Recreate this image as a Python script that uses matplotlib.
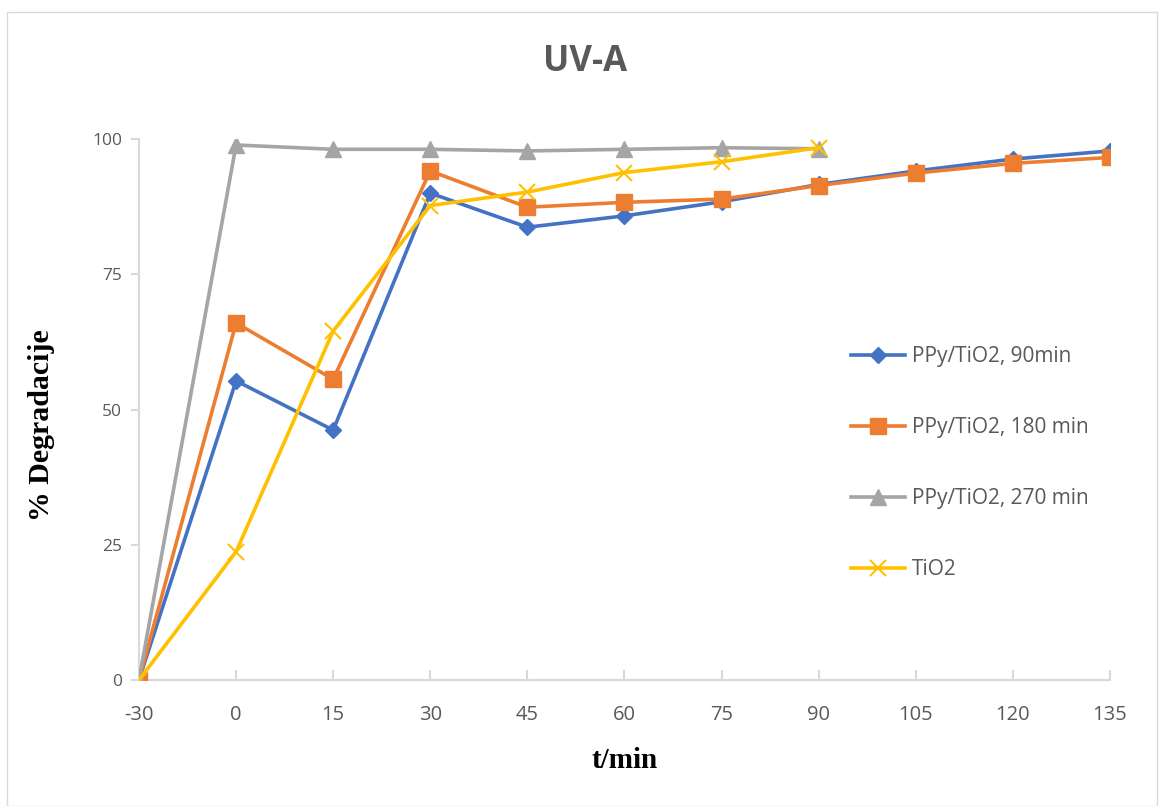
import matplotlib.pyplot as plt
from matplotlib.patches import Rectangle

times = ["-30", "0", "15", "30", "45", "60", "75", "90", "105", "120", "135"]

ppy_90 = [0, 55.3, 46.2, 90.0, 83.7, 85.8, 88.4, 91.6, 94.1, 96.3, 97.8]
ppy_180 = [0, 66.0, 55.6, 94.1, 87.4, 88.3, 88.9, 91.4, 93.7, 95.5, 96.6]
ppy_270 = [0, 98.9, 98.1, 98.1, 97.8, 98.1, 98.4, 98.2]
tio2 = [0, 23.7, 64.5, 87.7, 90.2, 93.8, 95.8, 98.4]

labels = ["PPy/TiO2, 90min", "PPy/TiO2, 180 min", "PPy/TiO2, 270 min", "TiO2"]

fig = plt.figure(figsize=(11.59, 8.06), dpi=100)
fig.patches.append(Rectangle((0.006, 0.0), 0.992, 0.985, transform=fig.transFigure,
                             fill=False, edgecolor='#d9d9d9', linewidth=1))
ax = fig.add_axes([0.1199, 0.1563, 0.8378, 0.6712])

axis_grey = '#d9d9d9'
text_grey = '#595959'

ax.plot(range(len(ppy_90)), ppy_90, color='#4472C4', linewidth=2.6,
        marker='D', markersize=8, label=labels[0])
ax.plot(range(len(ppy_180)), ppy_180, color='#ED7D31', linewidth=2.6,
        marker='s', markersize=11, label=labels[1])
ax.plot(range(len(ppy_270)), ppy_270, color='#A5A5A5', linewidth=2.6,
        marker='^', markersize=11, label=labels[2])
ax.plot(range(len(tio2)), tio2, color='#FFC000', linewidth=2.6,
        marker='x', markersize=11, markeredgewidth=1.5, label=labels[3])

ax.set_xlim(0, len(times) - 1)
ax.set_ylim(0, 100)
ax.set_xticks(range(len(times)))
ax.set_xticklabels(times)
ax.set_yticks([0, 25, 50, 75, 100])

for side in ['top', 'right']:
    ax.spines[side].set_visible(False)
for side in ['left', 'bottom']:
    ax.spines[side].set_color(axis_grey)
    ax.spines[side].set_linewidth(1.5)
    ax.spines[side].set_zorder(0)

ax.tick_params(axis='x', direction='in', length=7, width=1.5, color=axis_grey,
               labelsize=14.5, labelcolor=text_grey, pad=18)
ax.tick_params(axis='y', direction='out', length=6, width=1.5, color=axis_grey,
               labelsize=12.5, labelcolor=text_grey, pad=6)
for lbl in ax.get_xticklabels() + ax.get_yticklabels():
    lbl.set_fontfamily('Open Sans')

ax.set_xlabel("t/min", fontsize=21, fontweight='bold', family='Liberation Serif', labelpad=16)
ax.set_ylabel("% Degradacije", fontsize=21.5, fontweight='bold', family='Liberation Serif')
ax.yaxis.set_label_coords(-0.086, 0.472)
fig.text(0.505, 0.923, "UV-A", ha='center', va='center', fontsize=25, fontweight='bold',
         color=text_grey, family='Open Sans')

leg = ax.legend(loc='upper left', bbox_to_anchor=(0.725, 0.633), frameon=False,
                prop={'family': 'Open Sans', 'size': 15}, labelspacing=2.4,
                handlelength=2.6, handletextpad=0.3, borderaxespad=0)
for t in leg.get_texts():
    t.set_color(text_grey)

fig.savefig("out.png", dpi=100)
